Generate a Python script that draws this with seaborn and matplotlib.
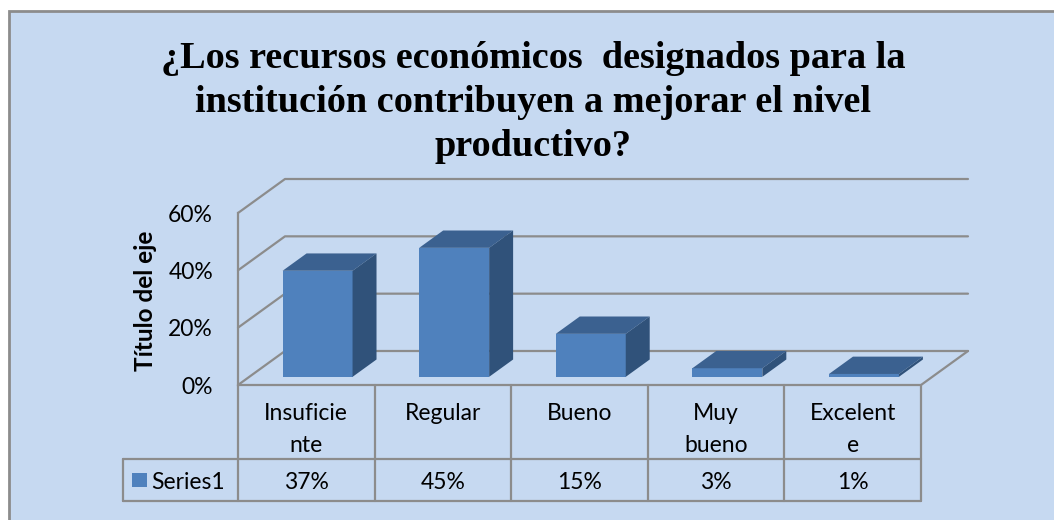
import pandas as pd
import seaborn as sns
import matplotlib.pyplot as plt
from matplotlib.patches import Polygon, Rectangle
from matplotlib import transforms

# data
categories = ['Insuficiente', 'Regular', 'Bueno', 'Muy bueno', 'Excelente']
cat_lines = [['Insuficie', 'nte'], ['Regular'], ['Bueno'], ['Muy', 'bueno'], ['Excelent', 'e']]
values = [0.37, 0.45, 0.15, 0.03, 0.01]
value_labels = ['37%', '45%', '15%', '3%', '1%']
y_ticks = [0, 0.2, 0.4, 0.6]
y_tick_labels = ['0%', '20%', '40%', '60%']
series_name = 'Series1'
title = ('¿Los recursos económicos  designados para la\n'
         'institución contribuyen a mejorar el nivel\n'
         'productivo?')
y_title = 'Título del eje'

# colours
BG = '#C6D9F1'
GRID = '#8C8C8C'
FRONT = '#4F81BD'
TOP = '#3B6190'
SIDE = '#30527A'

# fake 3d: depth offset in data units, bar depth range
DX, DY = 0.344, 0.1186
D0, D1 = 0.24, 0.75
FS = 16.5


def proj(x, y, d):
    return x + DX * d, y + DY * d


sns.set_style('white')
plt.rcParams['font.family'] = ['Lato', 'DejaVu Sans']
plt.rcParams['text.color'] = 'black'
plt.rcParams['ytick.color'] = 'black'
plt.rcParams['axes.labelcolor'] = 'black'

fig = plt.figure(figsize=(10.54, 5.2), dpi=100)
fig.patch.set_facecolor('white')
fig.add_artist(Rectangle((9 / 1054, -0.05), 1.2, 1.05 - 11 / 520,
                         transform=fig.transFigure, facecolor=BG,
                         edgecolor=GRID, linewidth=2, zorder=0))

ax = fig.add_axes([238 / 1054, 135 / 520, 683 / 1054, 172 / 520])
ax.patch.set_alpha(0)

df = pd.DataFrame({'cat': categories, 'val': values})
sns.barplot(data=df, x='cat', y='val', color=FRONT, width=0.512,
            saturation=1, linewidth=0, ax=ax, zorder=3)

# back wall, left wall and floor
for t in y_ticks:
    xs, ys = zip(proj(-0.5, t, 0), proj(-0.5, t, 1), proj(4.5, t, 1))
    ax.plot(xs, ys, color=GRID, lw=1.6, clip_on=False, zorder=1)
xs, ys = zip(proj(-0.5, 0, 0), proj(4.5, 0, 0), proj(4.5, 0, 1))
ax.plot(xs, ys, color=GRID, lw=1.6, clip_on=False, zorder=1)

# turn the flat bars into boxes
for p in list(ax.patches):
    x0, w, h = p.get_x(), p.get_width(), p.get_height()
    p.set_transform(transforms.Affine2D().translate(DX * D0, DY * D0) + ax.transData)
    p.set_clip_on(False)
    top = Polygon([proj(x0, h, D0), proj(x0 + w, h, D0),
                   proj(x0 + w, h, D1), proj(x0, h, D1)],
                  facecolor=TOP, edgecolor='none', zorder=3, clip_on=False)
    side = Polygon([proj(x0 + w, 0, D0), proj(x0 + w, h, D0),
                    proj(x0 + w, h, D1), proj(x0 + w, 0, D1)],
                   facecolor=SIDE, edgecolor='none', zorder=3, clip_on=False)
    ax.add_patch(top)
    ax.add_patch(side)

ax.set_xlim(-0.5, 4.5)
ax.set_ylim(0, 0.6)
ax.set_xticks([])
ax.set_xlabel('')
ax.set_yticks(y_ticks, y_tick_labels)
ax.tick_params(axis='y', length=0, pad=18, labelsize=FS)
for s in ['top', 'right', 'bottom']:
    ax.spines[s].set_visible(False)
ax.spines['left'].set_color(GRID)
ax.spines['left'].set_linewidth(1.6)
ax.set_ylabel(y_title, fontsize=17.5, fontweight='bold')
ax.yaxis.set_label_coords(-0.118, 0.488)

# data table under the plot
tr = transforms.blended_transform_factory(ax.transData, ax.transAxes)
row_mid, row_bot, leg_x = -0.430, -0.674, -1.342
for xb in [i - 0.5 for i in range(len(categories) + 1)]:
    ax.plot([xb, xb], [0, row_bot], color=GRID, lw=1.6, transform=tr, clip_on=False)
ax.plot([leg_x, leg_x], [row_mid, row_bot], color=GRID, lw=1.6, transform=tr, clip_on=False)
for yb in [row_mid, row_bot]:
    ax.plot([leg_x, 4.5], [yb, yb], color=GRID, lw=1.6, transform=tr, clip_on=False)

for i, lines in enumerate(cat_lines):
    for j, line in enumerate(lines):
        ax.text(i, -0.163 - j * 0.186, line, transform=tr, ha='center',
                va='center', fontsize=FS)
for i, lab in enumerate(value_labels):
    ax.text(i, -0.564, lab, transform=tr, ha='center', va='center', fontsize=FS)
ax.add_patch(Rectangle((-1.276, -0.593), 0.11, 0.081, transform=tr,
                       facecolor=FRONT, edgecolor='none', clip_on=False))
ax.text(-1.135, -0.564, series_name, transform=tr, ha='left', va='center', fontsize=FS)

fig.text(533 / 1054, 1 - 41 / 520, title, ha='center', va='top', fontsize=27.5,
         fontweight='bold', family=['Liberation Serif', 'DejaVu Serif'],
         linespacing=1.33, color='black')

fig.savefig('out.png', dpi=100, facecolor=fig.get_facecolor())
